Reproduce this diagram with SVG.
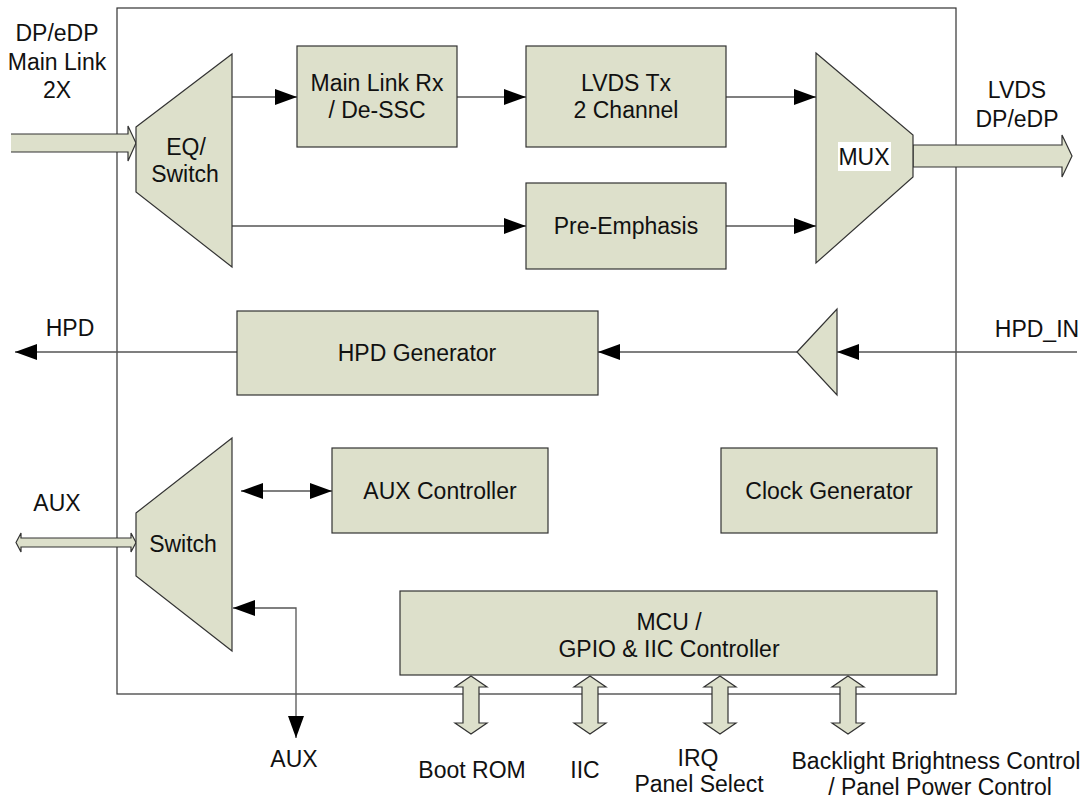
<svg xmlns="http://www.w3.org/2000/svg" width="1091" height="807" viewBox="0 0 1091 807">
<style>
.blk{fill:#dde0cb;stroke:#333;stroke-width:1.2}
.t{font-family:"Liberation Sans",Arial,sans-serif;font-size:23px;fill:#111;text-anchor:middle}
.ln{stroke:#555;stroke-width:1.3;fill:none}
.frame{fill:#fff;stroke:#333;stroke-width:1.2}
</style>
<defs>
<marker id="ah" markerUnits="userSpaceOnUse" markerWidth="22" markerHeight="16" refX="22" refY="8" orient="auto-start-reverse" viewBox="0 0 22 16">
<path d="M0,0 L22,8 L0,16 z" fill="#000"/>
</marker>
</defs>
<rect width="1091" height="807" fill="#fff"/>
<g id="chip"><rect class="frame" x="117" y="8" width="839" height="686"/></g>

<g id="labels-outside">
<text class="t" x="57" y="41">DP/eDP</text>
<text class="t" x="57" y="70">Main Link</text>
<text class="t" x="57" y="98">2X</text>
<text class="t" x="1017" y="98">LVDS</text>
<text class="t" x="1017" y="127">DP/eDP</text>
<text class="t" x="70" y="336">HPD</text>
<text class="t" x="1037" y="337">HPD_IN</text>
<text class="t" x="57" y="511">AUX</text>
<text class="t" x="294" y="767">AUX</text>
<text class="t" x="472" y="778">Boot ROM</text>
<text class="t" x="585" y="778">IIC</text>
<text class="t" x="698" y="766">IRQ</text>
<text class="t" x="699" y="792">Panel Select</text>
<text class="t" x="936" y="769">Backlight Brightness Control</text>
<text class="t" x="940" y="795">/ Panel Power Control</text>
</g>

<g id="connectors">
<path class="ln" d="M232,97 H297" marker-end="url(#ah)"/>
<path class="ln" d="M457,97 H526" marker-end="url(#ah)"/>
<path class="ln" d="M726,97 H816" marker-end="url(#ah)"/>
<path class="ln" d="M232,226 H526" marker-end="url(#ah)"/>
<path class="ln" d="M726,226 H816" marker-end="url(#ah)"/>
<path class="ln" d="M237,352 H15" marker-end="url(#ah)"/>
<path class="ln" d="M797,352 H598" marker-end="url(#ah)"/>
<path class="ln" d="M1077,352 H837" marker-end="url(#ah)"/>
<path class="ln" d="M241,491 H332" marker-start="url(#ah)" marker-end="url(#ah)"/>
<path class="ln" d="M296,738 V608 H233" marker-start="url(#ah)" marker-end="url(#ah)"/>
<g id="bus-in">
<polygon points="11,134 128,134 128,126 136,143 128,161 128,152 11,152" fill="#dde0cb"/>
<path d="M11,134 H128 V126 L136,143 L128,161 V152 H11" fill="none" stroke="#333" stroke-width="1.2"/>
</g>
<polygon id="bus-out" class="blk" points="913,145 1062,145 1062,135 1072,156 1062,177 1062,167 913,167"/>
<polygon id="bus-aux" class="blk" points="16,542.5 21,533 21,538 131,538 131,533 136,542.5 131,552 131,547 21,547 21,552"/>
<polygon id="bus-bootrom" class="blk" points="471,676 487,687 479,687 479,723 487,723 471,734 455,723 463,723 463,687 455,687"/>
<polygon id="bus-iic" class="blk" points="590,676 606,687 598,687 598,723 606,723 590,734 574,723 582,723 582,687 574,687"/>
<polygon id="bus-irq" class="blk" points="720,676 736,687 728,687 728,723 736,723 720,734 704,723 712,723 712,687 704,687"/>
<polygon id="bus-bl" class="blk" points="848,676 864,687 856,687 856,723 864,723 848,734 832,723 840,723 840,687 832,687"/>
</g>

<g id="eq-switch">
<polygon class="blk" points="136,127 232,54 232,267 136,192"/>
<text class="t" x="186" y="155">EQ/</text>
<text class="t" x="185" y="182">Switch</text>
</g>
<g id="main-link-rx">
<rect class="blk" x="297" y="46" width="160" height="101"/>
<text class="t" x="377" y="91">Main Link Rx</text>
<text class="t" x="377" y="118">/ De-SSC</text>
</g>
<g id="lvds-tx">
<rect class="blk" x="526" y="46" width="200" height="101"/>
<text class="t" x="626" y="91">LVDS Tx</text>
<text class="t" x="626" y="118">2 Channel</text>
</g>
<g id="pre-emphasis">
<rect class="blk" x="526" y="183" width="200" height="86"/>
<text class="t" x="626" y="234">Pre-Emphasis</text>
</g>
<g id="mux">
<polygon class="blk" points="816,53 913,135 913,177 816,263"/>
<rect x="838" y="142" width="53" height="29" fill="#fff"/>
<text class="t" x="864" y="165">MUX</text>
</g>
<g id="hpd-generator">
<rect class="blk" x="237" y="311" width="361" height="84"/>
<text class="t" x="417" y="361">HPD Generator</text>
</g>
<g id="hpd-buffer">
<polygon class="blk" points="797,352 837,309 837,395"/>
</g>
<g id="aux-switch">
<polygon class="blk" points="136,513 232,438 232,651 136,576"/>
<text class="t" x="183" y="552">Switch</text>
</g>
<g id="aux-controller">
<rect class="blk" x="332" y="448" width="216" height="85"/>
<text class="t" x="440" y="499">AUX Controller</text>
</g>
<g id="clock-generator">
<rect class="blk" x="721" y="448" width="216" height="85"/>
<text class="t" x="829" y="499">Clock Generator</text>
</g>
<g id="mcu">
<rect class="blk" x="400" y="591" width="537" height="84"/>
<text class="t" x="669" y="630">MCU /</text>
<text class="t" x="669" y="657">GPIO &amp; IIC Controller</text>
</g>
</svg>
